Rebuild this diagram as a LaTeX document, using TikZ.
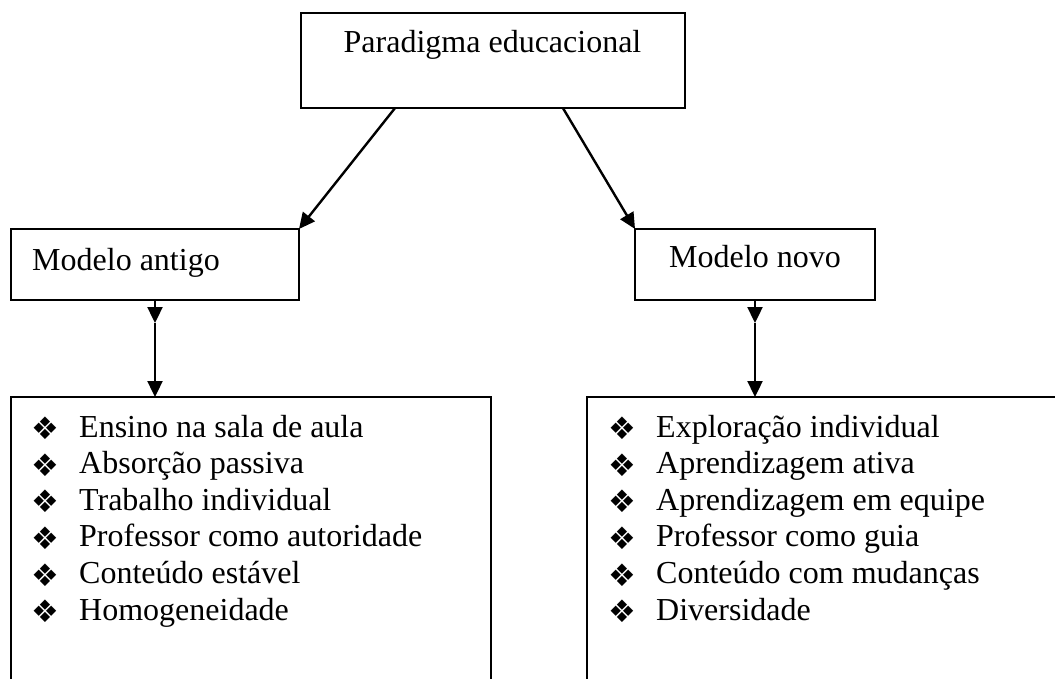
\documentclass[tikz,border=0pt]{standalone}
\usepackage{fontspec}
\setmainfont{Liberation Serif}
\newfontfamily\dingfont{DejaVu Sans}
\usetikzlibrary{arrows.meta,calc}
\newcommand{\bul}{{\dingfont\fontsize{31}{31}\selectfont ❖}}
\tikzset{
  box/.style={draw=black, line width=2.4pt, inner sep=0pt, outer sep=0pt, fill=none},
  txt/.style={inner sep=0pt, font=\fontsize{32}{36}\selectfont},
  arr/.style={line width=2.4pt, -{Triangle[length=16pt,width=15pt]}},
}
\begin{document}
\begin{tikzpicture}[x=1pt,y=-1pt]
\clip (0,0) rectangle (1055,679);
\fill[white] (0,0) rectangle (1055,679);
% boxes
\node[box, minimum width=384pt, minimum height=95pt] (top) at (493,60.5) {};
\node[box, minimum width=288pt, minimum height=71pt] (antigo) at (155,264.5) {};
\node[box, minimum width=240pt, minimum height=71pt] (novo) at (755,264.5) {};
\node[box, minimum width=480pt, minimum height=340pt] (lista1) at (251,567) {};
\node[box, minimum width=520pt, minimum height=340pt] (lista2) at (847,567) {};
% texts
\node[txt, anchor=base] (ttop) at (492.5,53) {Paradigma educacional};
\node[txt, anchor=base west] (tantigo) at (32,270) {Modelo antigo};
\node[txt, anchor=base] (tnovo) at (755,268) {Modelo novo};
\foreach \t [count=\i] in {Ensino na sala de aula, Absorção passiva, Trabalho individual, Professor como autoridade, Conteúdo estável, Homogeneidade}{
  \node[txt, anchor=base west] (a\i) at (79,{437+36.6*(\i-1)}) {\t};
  \node[anchor=center, inner sep=0pt] (ba\i) at (45,{428.5+36.6*(\i-1)}) {\bul};
}
\foreach \t [count=\i] in {Exploração individual, Aprendizagem ativa, Aprendizagem em equipe, Professor como guia, Conteúdo com mudanças, Diversidade}{
  \node[txt, anchor=base west] (b\i) at (656,{437+36.6*(\i-1)}) {\t};
  \node[anchor=center, inner sep=0pt] (bb\i) at (622,{428.5+36.6*(\i-1)}) {\bul};
}
% connectors
\coordinate (p1) at ($(top.south west)!0.245!(top.south east)$);
\coordinate (p2) at ($(top.south west)!0.682!(top.south east)$);
\draw[arr] (p1) -- (antigo.north east);
\draw[arr] (p2) -- (novo.north west);
\coordinate (m1) at ([yshift=-23pt]antigo.south);
\coordinate (m2) at ([yshift=-23pt]novo.south);
\draw[arr] (antigo.south) -- (m1);
\draw[arr] (m1) -- (m1 |- lista1.north);
\draw[arr] (novo.south) -- (m2);
\draw[arr] (m2) -- (m2 |- lista2.north);
\end{tikzpicture}
\end{document}
